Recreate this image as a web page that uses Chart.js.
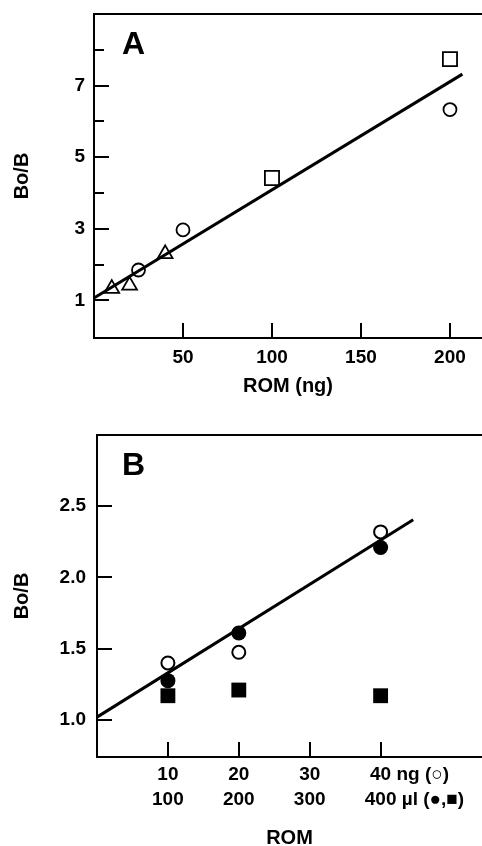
<!DOCTYPE html>
<html>
<head>
<meta charset="utf-8">
<script src="https://cdn.jsdelivr.net/npm/chart.js@4/dist/chart.umd.min.js"></script>
<style>
  html, body { margin: 0; padding: 0; background: #fff; overflow: hidden; }
  .panel { position: absolute; left: 0; width: 482px; }
  #boxA { top: 0; height: 410px; }
  #boxB { top: 420px; height: 426px; }
</style>
</head>
<body>
<div class="panel" id="boxA"><canvas id="chartA"></canvas></div>
<div class="panel" id="boxB"><canvas id="chartB"></canvas></div>
<script>
// panel A : Bo/B against ROM (ng)
var aTriX = [10, 20, 40],
    aTriY = [1.33, 1.42, 2.30];
var aCircX = [25, 50, 200],
    aCircY = [1.85, 2.97, 6.33];
var aSqX = [100, 200],
    aSqY = [4.42, 7.74];
var aFitX = [0, 207],
    aFitY = [1.07, 7.32];
var aXTicks = [50, 100, 150, 200];
var aYTicks = [1, 3, 5, 7];
var aYMinor = [2, 4, 6, 8];

// panel B : Bo/B against ROM (ng or ul)
var bX = [10, 20, 40];
var bOpenY = [1.40, 1.475, 2.32];
var bFilledY = [1.276, 1.61, 2.21];
var bSquareY = [1.17, 1.21, 1.17];
var bFitX = [0, 44.6],
    bFitY = [1.02, 2.405];
var bXTicks = [10, 20, 30, 40];
var bXTicks2 = ['100', '200', '300', '400'];
var bYTicks = [1.0, 1.5, 2.0, 2.5];
var bUnit1 = ' ng (\u25CB)';
var bUnit2 = ' \u00B5l (\u25CF,\u25A0)';

var FONT = '"Liberation Sans", Arial, Helvetica, sans-serif';
Chart.defaults.font.family = FONT;
Chart.defaults.color = '#000';

var TICK_LEN = 15;
var B_PAD = 20, B_LINE = 25;

function pts(xs, ys) {
    return xs.map(function (x, i) { return { x: x, y: ys[i] }; });
}

function setTicks(list) {
    return function (scale) {
        scale.ticks = list.map(function (v) { return { value: v }; });
    };
}

// fixed axis size, no extra room for overhanging labels
function fixX(h) {
    return function (s) { s.height = h; s.paddingLeft = 0; s.paddingRight = 0; };
}
function fixY(w) {
    return function (s) { s.width = w; s.paddingTop = 0; s.paddingBottom = 0; };
}

var tickFont = { size: 19, weight: 'bold' };
var titleFont = { size: 20, weight: 'bold', lineHeight: '24px' };
var gridStyle = {
    drawOnChartArea: false,
    drawTicks: true,
    tickLength: -TICK_LEN,
    color: '#000',
    lineWidth: 2
};
var borderStyle = { display: true, color: '#000', width: 2 };

// top frame line, panel letter and unit text after the last tick of B
function decor(letter, dx, units) {
    return {
        id: 'decor' + letter,
        afterDraw: function (chart) {
            var ctx = chart.ctx, a = chart.chartArea;
            ctx.save();
            ctx.strokeStyle = '#000';
            ctx.lineWidth = 2;
            ctx.beginPath();
            ctx.moveTo(a.left - 1, a.top);
            ctx.lineTo(a.right, a.top);
            ctx.stroke();

            ctx.fillStyle = '#000';
            ctx.font = 'bold 32px ' + FONT;
            ctx.textBaseline = 'alphabetic';
            ctx.textAlign = 'left';
            ctx.fillText(letter, a.left + dx, a.top + 40);

            if (units) {
                var xs = chart.scales.x;
                var px = xs.getPixelForValue(40);
                ctx.font = 'bold 19px ' + FONT;
                ctx.textBaseline = 'middle';
                var y1 = xs.top - TICK_LEN + B_PAD + B_LINE / 2;
                var w1 = ctx.measureText('40').width;
                var w2 = ctx.measureText('400').width;
                ctx.fillText(units.l1, px + w1 / 2, y1);
                ctx.fillText(units.l2, px + w2 / 2, y1 + B_LINE);
            }
            ctx.restore();
        }
    };
}

var chartA = new Chart(document.getElementById('chartA'), {
    type: 'scatter',
    data: {
        datasets: [{
            data: pts(aFitX, aFitY),
            showLine: true,
            borderColor: '#000',
            borderWidth: 3,
            pointRadius: 0
        }, {
            data: pts(aTriX, aTriY),
            pointStyle: 'triangle',
            pointRadius: 8.5,
            borderWidth: 1.8,
            borderColor: '#000',
            backgroundColor: '#fff'
        }, {
            data: pts(aCircX, aCircY),
            pointStyle: 'circle',
            pointRadius: 6.5,
            borderWidth: 1.8,
            borderColor: '#000',
            backgroundColor: '#fff'
        }, {
            data: pts(aSqX, aSqY),
            pointStyle: 'rect',
            pointRadius: 10,
            borderWidth: 1.8,
            borderColor: '#000',
            backgroundColor: '#fff'
        }]
    },
    options: {
        responsive: true,
        maintainAspectRatio: false,
        animation: false,
        layout: { autoPadding: false, padding: { top: 14, right: 0, left: 0, bottom: 0 } },
        plugins: { legend: { display: false }, tooltip: { enabled: false } },
        scales: {
            x: {
                type: 'linear',
                min: 0,
                max: 218,
                afterBuildTicks: setTicks(aXTicks),
                afterFit: fixX(72),
                grid: gridStyle,
                border: borderStyle,
                ticks: { autoSkip: false, maxRotation: 0, padding: 23, font: tickFont },
                title: {
                    display: true,
                    text: 'ROM (ng)',
                    font: titleFont,
                    padding: { top: 0, bottom: 12 }
                }
            },
            y: {
                type: 'linear',
                min: -0.05,
                max: 9,
                afterBuildTicks: setTicks(aYTicks),
                afterFit: fixY(94),
                grid: gridStyle,
                border: borderStyle,
                ticks: { autoSkip: false, padding: 24, font: tickFont },
                title: {
                    display: true,
                    text: 'Bo/B',
                    font: titleFont,
                    padding: { top: 10, bottom: 0 }
                }
            },
            // short unlabelled ticks between the numbered ones
            yMinor: {
                type: 'linear',
                axis: 'y',
                position: { x: 0 },
                min: -0.05,
                max: 9,
                afterBuildTicks: setTicks(aYMinor),
                afterFit: fixY(0),
                grid: {
                    drawOnChartArea: false,
                    drawTicks: true,
                    tickLength: -10,
                    color: '#000',
                    lineWidth: 2
                },
                border: { display: false },
                ticks: { display: false }
            }
        }
    },
    plugins: [decor('A', 28, null)]
});

var chartB = new Chart(document.getElementById('chartB'), {
    type: 'scatter',
    data: {
        datasets: [{
            data: pts(bFitX, bFitY),
            showLine: true,
            borderColor: '#000',
            borderWidth: 3,
            pointRadius: 0
        }, {
            data: pts(bX, bOpenY),
            pointStyle: 'circle',
            pointRadius: 6.5,
            borderWidth: 2,
            borderColor: '#000',
            backgroundColor: '#fff'
        }, {
            data: pts(bX, bFilledY),
            pointStyle: 'circle',
            pointRadius: 7.5,
            borderWidth: 0,
            backgroundColor: '#000'
        }, {
            data: pts(bX, bSquareY),
            pointStyle: 'rect',
            pointRadius: 10.5,
            borderWidth: 0,
            backgroundColor: '#000'
        }]
    },
    options: {
        responsive: true,
        maintainAspectRatio: false,
        animation: false,
        layout: { autoPadding: false, padding: { top: 15, right: 0, left: 0, bottom: 0 } },
        plugins: { legend: { display: false }, tooltip: { enabled: false } },
        scales: {
            x: {
                type: 'linear',
                min: 0,
                max: 54.3,
                afterBuildTicks: setTicks(bXTicks),
                afterFit: fixX(89),
                grid: gridStyle,
                border: borderStyle,
                ticks: {
                    autoSkip: false,
                    maxRotation: 0,
                    padding: B_PAD,
                    font: { size: 19, weight: 'bold', lineHeight: B_LINE + 'px' },
                    callback: function (v) { return [String(v), bXTicks2[bXTicks.indexOf(v)]]; }
                },
                title: {
                    display: true,
                    text: 'ROM',
                    font: { size: 20, weight: 'bold', lineHeight: '16px' },
                    padding: { top: 0, bottom: 0 }
                }
            },
            y: {
                type: 'linear',
                min: 0.74,
                max: 3.0,
                afterBuildTicks: setTicks(bYTicks),
                afterFit: fixY(97),
                grid: gridStyle,
                border: borderStyle,
                ticks: {
                    autoSkip: false,
                    padding: 26,
                    font: tickFont,
                    callback: function (v) { return v.toFixed(1); }
                },
                title: {
                    display: true,
                    text: 'Bo/B',
                    font: titleFont,
                    padding: { top: 10, bottom: 0 }
                }
            }
        }
    },
    plugins: [decor('B', 25, { l1: bUnit1, l2: bUnit2 })]
});
</script>
</body>
</html>
